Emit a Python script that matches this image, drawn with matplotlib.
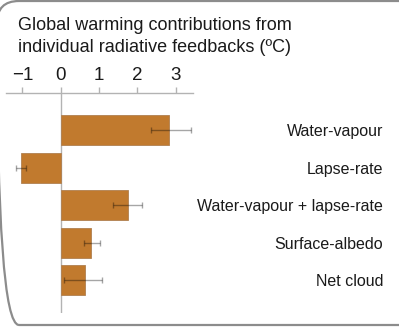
import matplotlib.pyplot as plt
import matplotlib.transforms as mtransforms
from matplotlib.patches import FancyBboxPatch

# ========== data ==========
feedbacks = ["Water-vapour", "Lapse-rate", "Water-vapour + lapse-rate", "Surface-albedo", "Net cloud"]
warming = [2.82, -1.05, 1.75, 0.78, 0.64]
low = [2.35, -1.18, 1.35, 0.61, 0.08]
high = [3.39, -0.91, 2.13, 1.01, 1.07]
xticks = [-1, 0, 1, 2, 3]
xtick_labels = ["\u22121", "0", "1", "2", "3"]

plt.rcParams["font.family"] = ["Liberation Sans", "DejaVu Sans"]

W, H = 399, 327
fig = plt.figure(figsize=(W / 100, H / 100), dpi=100)

# axes: left 6px, right 193px, top 93px, bottom 313px
ax = fig.add_axes([6 / W, 1 - 313 / H, (193 - 6) / W, (313 - 93) / H])

bar_col = "#c17a2e"
grey = "#b3b3b3"
txt = "#1a1a1a"
ypos = list(range(len(feedbacks)))
ax.barh(ypos, warming, height=0.8, color=bar_col, edgecolor="#b08050", linewidth=0.6, zorder=2)

xerr = [[w - l for w, l in zip(warming, low)], [h - w for w, h in zip(warming, high)]]
ax.errorbar(warming, ypos, xerr=xerr, fmt="none", ecolor="black", alpha=0.35,
            elinewidth=1.0, capsize=2, capthick=1.0, zorder=3)

ax.set_xlim(-1.43, 3.45)
ax.set_ylim(4.88, -1.0)
ax.axvline(0, color=grey, lw=1.0, zorder=1)

for s in ["right", "bottom", "left"]:
    ax.spines[s].set_visible(False)
ax.spines["top"].set_color(grey)
ax.spines["top"].set_linewidth(1.0)
ax.set_yticks([])
ax.set_xticks(xticks)
ax.set_xticklabels(xtick_labels)
ax.tick_params(axis="x", top=True, labeltop=True, bottom=False, labelbottom=False,
               direction="out", length=4, width=1.0, color=grey, pad=2.5,
               labelsize=13.5, labelcolor=txt)
ax.patch.set_visible(False)

# category labels, right aligned outside the axes
trans = mtransforms.blended_transform_factory(fig.transFigure, ax.transData)
trans = mtransforms.offset_copy(trans, fig=fig, y=-6, units="dots")
for y, name in zip(ypos, feedbacks):
    fig.text(383 / W, y, name, transform=trans, ha="right", va="baseline",
             fontsize=11.5, color=txt)

# title
fig.text(18 / W, 1 - 30 / H, "Global warming contributions from", ha="left", va="baseline",
         fontsize=13, color=txt)
fig.text(18 / W, 1 - 52 / H, "individual radiative feedbacks (ºC)", ha="left", va="baseline",
         fontsize=13, color=txt)

# rounded border
box = FancyBboxPatch((-3, H - 325), 430, 324, boxstyle="round,pad=0,rounding_size=22",
                     transform=mtransforms.IdentityTransform(), facecolor="none",
                     edgecolor="#8c8c8c", linewidth=1.6, clip_on=False)
fig.patches.append(box)

fig.savefig("out.png", dpi=100)
